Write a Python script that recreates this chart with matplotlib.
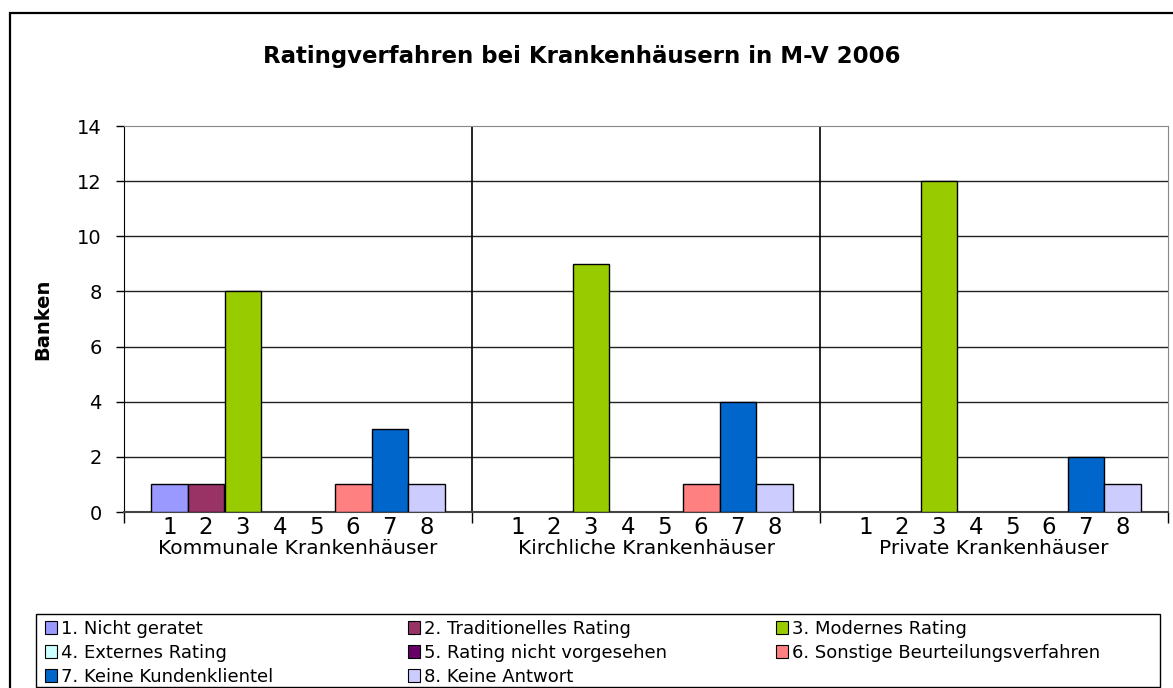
import numpy as np
import matplotlib
matplotlib.use("Agg")
import matplotlib.pyplot as plt
from matplotlib.patches import Patch, Rectangle

plt.rcParams['font.family'] = ['DejaVu Sans']

groups = ['Kommunale Krankenhäuser', 'Kirchliche Krankenhäuser', 'Private Krankenhäuser']
categories = ['1. Nicht geratet', '2. Traditionelles Rating', '3. Modernes Rating',
              '4. Externes Rating', '5. Rating nicht vorgesehen',
              '6. Sonstige Beurteilungsverfahren', '7. Keine Kundenklientel',
              '8. Keine Antwort']
tick_labels = ['1', '2', '3', '4', '5', '6', '7', '8']
values = np.array([
    [1, 1, 8, 0, 0, 1, 3, 1],   # Kommunale
    [0, 0, 9, 0, 0, 1, 4, 1],   # Kirchliche
    [0, 0, 12, 0, 0, 0, 2, 1],  # Private
])
colors = ['#9999FF', '#993366', '#99CC00', '#CCFFFF', '#660066',
          '#FF8080', '#0066CC', '#CCCCFF']

W, H = 1173, 688
fig = plt.figure(figsize=(W / 100, H / 100), dpi=100)

# outer frame
fig.patches.append(Rectangle((10 / W, -0.1), 1.2, 1 - 13 / H + 0.1,
                             transform=fig.transFigure, fill=False,
                             edgecolor='black', linewidth=1.6))

left, right, top, bottom = 124, 1168, 126, 512
ax = fig.add_axes([left / W, 1 - bottom / H, (right - left) / W, (bottom - top) / H])

bw = 36.75 / 348
margin = 27 / 348
centers = []
for g in range(len(groups)):
    xs = g + margin + (np.arange(len(categories)) + 0.5) * bw
    centers.extend(xs)
    for i in range(len(categories)):
        if values[g, i] > 0:
            ax.bar(xs[i], values[g, i], width=bw, color=colors[i],
                   edgecolor='black', linewidth=1.0, zorder=3)

ax.set_xlim(0, len(groups))
ax.set_ylim(0, 14)
ax.set_yticks(np.arange(0, 15, 2))
for y in range(2, 14, 2):
    ax.axhline(y, color='#222222', linewidth=1.0, zorder=1)
for g in range(1, len(groups)):
    ax.axvline(g, color='black', linewidth=1.2, zorder=2)

ax.set_xticks(centers)
ax.set_xticklabels(tick_labels * len(groups), fontsize=16.5)
ax.tick_params(axis='x', which='major', length=0, pad=3)
ax.set_xticks(np.arange(0, len(groups) + 1), minor=True)
ax.tick_params(axis='x', which='minor', length=8, width=1.0, color='black', direction='out')
ax.tick_params(axis='y', length=6, width=1.0, labelsize=14, pad=10)

for g, name in enumerate(groups):
    ax.text(g + 0.5, -0.07, name, transform=ax.get_xaxis_transform(),
            ha='center', va='top', fontsize=14.5)

ax.spines['left'].set_color('black')
ax.spines['bottom'].set_color('#444444')
ax.spines['top'].set_color('#888888')
ax.spines['right'].set_color('#888888')
ax.spines['bottom'].set_linewidth(1.5)

ax.set_ylabel('Banken', fontsize=14, fontweight='bold', labelpad=18)
fig.text(582 / W, 1 - 57 / H, 'Ratingverfahren bei Krankenhäusern in M-V 2006',
         ha='center', va='center', fontsize=16.5, fontweight='bold')

# legend: three columns inside one frame
fig.patches.append(Rectangle((36 / W, 1 - 687 / H), (1160 - 36) / W, (687 - 614) / H,
                             transform=fig.transFigure, fill=False,
                             edgecolor='black', linewidth=1.0))
col_x = [45, 408, 776]
for c in range(3):
    idx = list(range(c, len(categories), 3))
    handles = [Patch(facecolor=colors[i], edgecolor='black', linewidth=0.8) for i in idx]
    fig.legend(handles, [categories[i] for i in idx], loc='upper left',
               bbox_to_anchor=(col_x[c] / W, 1 - 620 / H), frameon=False,
               fontsize=13, handlelength=0.68, handleheight=0.68,
               handletextpad=0.2, labelspacing=0.33, borderpad=0, borderaxespad=0)

fig.savefig('out.png', dpi=100)
